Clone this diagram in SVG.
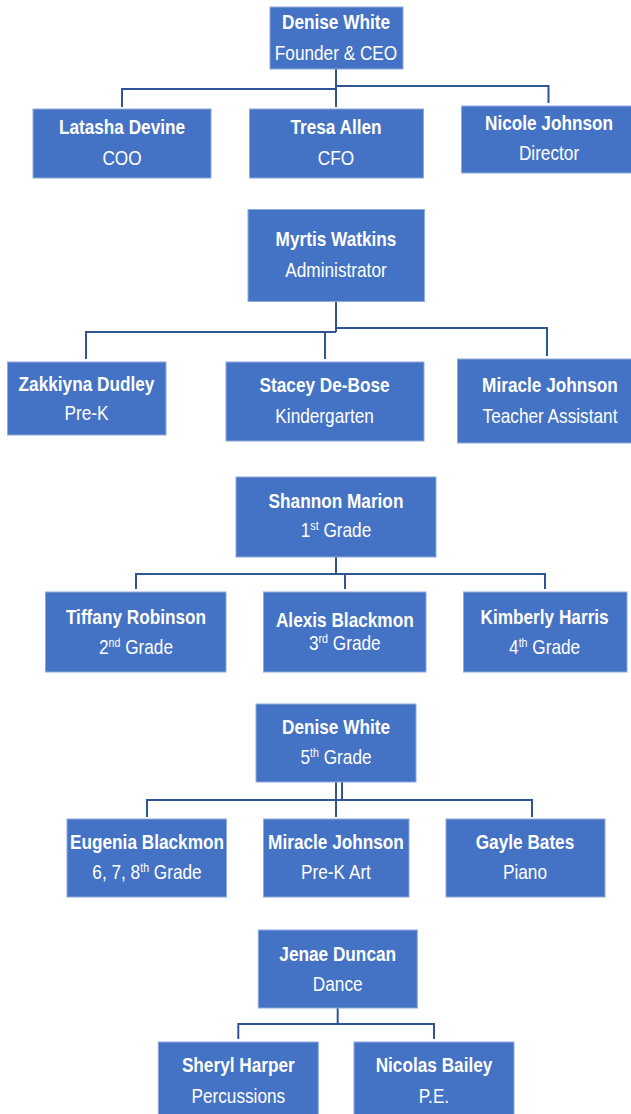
<svg xmlns="http://www.w3.org/2000/svg" width="631" height="1114" viewBox="0 0 631 1114">
<style>
.box{fill:#4472C4;stroke:#8FAADC;stroke-width:1}
.t{font-family:"Liberation Sans",Arial,sans-serif;font-size:21px;fill:#FFFFFF;text-anchor:middle}
.b{font-weight:bold}
.sup{font-size:13px}
.conn{fill:none;stroke:#2F5597;stroke-width:2}
</style>
<rect width="631" height="1114" fill="#FFFFFF"/>
<g id="connectors">
<path class="conn" d="M336,69 V89 M122,107 V89 H336 V107 M336,86 H548.5 V103"/>
<path class="conn" d="M336,302 V332 M86,359 V332 H336 M325,332 V359 M336,328 H547 V356"/>
<path class="conn" d="M336,557 V574 M136,589 V574 H545 V589 M345,574 V589"/>
<path class="conn" d="M336,782 V800 M342,782 V800 M147,817 V800 H532 V817 M336,800 V817"/>
<path class="conn" d="M337.7,1008 V1024 M238.3,1039 V1024 H434 V1039"/>
</g>
<g id="n1"><rect class="box" x="270" y="7" width="133" height="62"/><text class="t b" transform="translate(336 29) scale(.82 1)">Denise White</text><text class="t" transform="translate(336 60) scale(.82 1)">Founder &amp; CEO</text></g>
<g id="n2"><rect class="box" x="33" y="109" width="178" height="69"/><text class="t b" transform="translate(122 134) scale(.82 1)">Latasha Devine</text><text class="t" transform="translate(122 165) scale(.82 1)">COO</text></g>
<g id="n3"><rect class="box" x="249.5" y="109" width="174" height="69"/><text class="t b" transform="translate(336 134) scale(.82 1)">Tresa Allen</text><text class="t" transform="translate(336 165) scale(.82 1)">CFO</text></g>
<g id="n4"><rect class="box" x="461.5" y="106" width="170" height="67"/><text class="t b" transform="translate(549 130) scale(.82 1)">Nicole Johnson</text><text class="t" transform="translate(549 160) scale(.82 1)">Director</text></g>
<g id="n5"><rect class="box" x="248" y="209.5" width="176.5" height="92"/><text class="t b" transform="translate(336 246) scale(.82 1)">Myrtis Watkins</text><text class="t" transform="translate(336 277) scale(.82 1)">Administrator</text></g>
<g id="n6"><rect class="box" x="7.5" y="362" width="158.5" height="73"/><text class="t b" transform="translate(86.5 391) scale(.82 1)">Zakkiyna Dudley</text><text class="t" transform="translate(86.5 420) scale(.82 1)">Pre-K</text></g>
<g id="n7"><rect class="box" x="226" y="362" width="198" height="79"/><text class="t b" transform="translate(324.6 392) scale(.82 1)">Stacey De-Bose</text><text class="t" transform="translate(324.6 423) scale(.82 1)">Kindergarten</text></g>
<g id="n8"><rect class="box" x="457.5" y="359" width="174" height="84"/><text class="t b" transform="translate(550 392) scale(.82 1)">Miracle Johnson</text><text class="t" transform="translate(550 423) scale(.82 1)">Teacher Assistant</text></g>
<g id="n9"><rect class="box" x="236" y="477" width="200" height="80"/><text class="t b" transform="translate(336 508) scale(.82 1)">Shannon Marion</text><text class="t" transform="translate(336 537) scale(.82 1)">1<tspan class="sup" dy="-7">st</tspan><tspan dy="7"> Grade</tspan></text></g>
<g id="n10"><rect class="box" x="45.5" y="592" width="180.5" height="80"/><text class="t b" transform="translate(136 624) scale(.82 1)">Tiffany Robinson</text><text class="t" transform="translate(136 654) scale(.82 1)">2<tspan class="sup" dy="-7">nd</tspan><tspan dy="7"> Grade</tspan></text></g>
<g id="n11"><rect class="box" x="263.5" y="592" width="162.5" height="80"/><text class="t b" transform="translate(344.8 627) scale(.82 1)">Alexis Blackmon</text><text class="t" transform="translate(344.8 650) scale(.82 1)">3<tspan class="sup" dy="-7">rd</tspan><tspan dy="7"> Grade</tspan></text></g>
<g id="n12"><rect class="box" x="463.5" y="592" width="163.5" height="80"/><text class="t b" transform="translate(544.6 624) scale(.82 1)">Kimberly Harris</text><text class="t" transform="translate(544.6 654) scale(.82 1)">4<tspan class="sup" dy="-7">th</tspan><tspan dy="7"> Grade</tspan></text></g>
<g id="n13"><rect class="box" x="256" y="704" width="160" height="78"/><text class="t b" transform="translate(336 734) scale(.82 1)">Denise White</text><text class="t" transform="translate(336 764) scale(.82 1)">5<tspan class="sup" dy="-7">th</tspan><tspan dy="7"> Grade</tspan></text></g>
<g id="n14"><rect class="box" x="67" y="819" width="159.5" height="78"/><text class="t b" transform="translate(147 849) scale(.82 1)">Eugenia Blackmon</text><text class="t" transform="translate(147 879) scale(.82 1)">6, 7, 8<tspan class="sup" dy="-7">th</tspan><tspan dy="7"> Grade</tspan></text></g>
<g id="n15"><rect class="box" x="263.5" y="819" width="145.5" height="78"/><text class="t b" transform="translate(336 849) scale(.82 1)">Miracle Johnson</text><text class="t" transform="translate(336 879) scale(.82 1)">Pre-K Art</text></g>
<g id="n16"><rect class="box" x="446" y="819" width="159" height="78"/><text class="t b" transform="translate(525 849) scale(.82 1)">Gayle Bates</text><text class="t" transform="translate(525 879) scale(.82 1)">Piano</text></g>
<g id="n17"><rect class="box" x="258.3" y="930" width="159" height="78"/><text class="t b" transform="translate(337.7 961) scale(.82 1)">Jenae Duncan</text><text class="t" transform="translate(337.7 991) scale(.82 1)">Dance</text></g>
<g id="n18"><rect class="box" x="158.3" y="1042" width="160" height="76"/><text class="t b" transform="translate(238.3 1072) scale(.82 1)">Sheryl Harper</text><text class="t" transform="translate(238.3 1103) scale(.82 1)">Percussions</text></g>
<g id="n19"><rect class="box" x="354" y="1042" width="160" height="76"/><text class="t b" transform="translate(434 1072) scale(.82 1)">Nicolas Bailey</text><text class="t" transform="translate(434 1103) scale(.82 1)">P.E.</text></g>
</svg>
